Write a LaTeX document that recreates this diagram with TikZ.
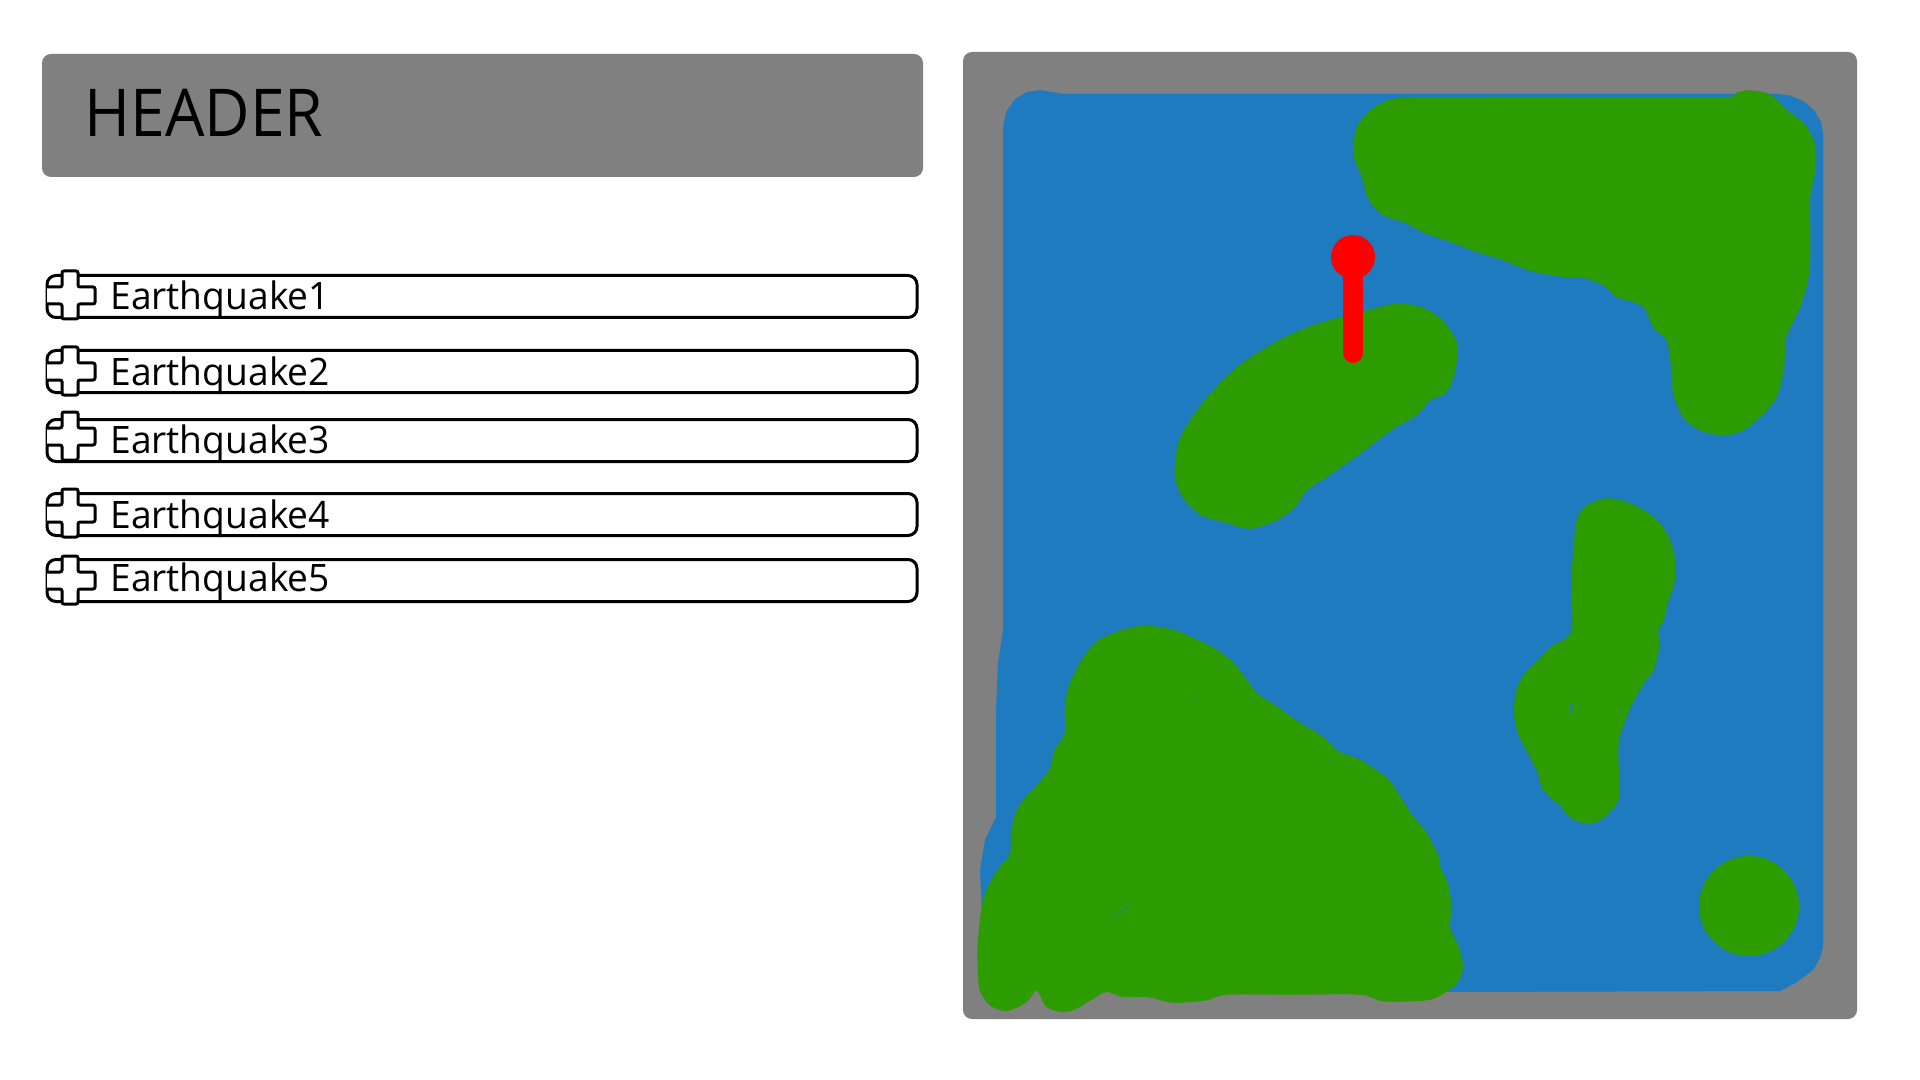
\documentclass[tikz,border=0pt]{standalone}
\usepackage{fontspec}
\setmainfont{Open Sans}
\newfontfamily\headfont[FakeStretch=0.945]{Open Sans}
\newfontfamily\rowfont[FakeStretch=0.983]{Open Sans}
\definecolor{panelgray}{HTML}{808080}
\definecolor{seablue}{HTML}{1E7BBF}
\definecolor{landgreen}{HTML}{2C9C00}
\definecolor{pinred}{HTML}{FF0000}
\tikzset{
  panel/.style={fill=panelgray,rounded corners=4.5pt},
  land/.style={fill=landgreen,draw=landgreen,line width=0.3pt},
  hole/.style={fill=seablue},
  eqbox/.style={draw=black,fill=white,line width=1.5pt,rounded corners=4.5pt,minimum width=435pt,minimum height=21pt,anchor=north west,inner sep=0pt},
  eqtext/.style={anchor=base west,inner sep=0pt,font=\rowfont\fontsize{18.9}{20}\selectfont},
  crossfill/.style={fill=white},
  crossline/.style={draw=black,line width=1.5pt,rounded corners=1pt}
}
\newcommand{\eqcross}[1]{%
  \path[crossfill] (47,#1+16) -- (62,#1+16) -- (62,#1) -- (78,#1) -- (78,#1+16) -- (95,#1+16) -- (95,#1+33) -- (78,#1+33) -- (78,#1+48) -- (62,#1+48) -- (62,#1+33) -- (47,#1+33) -- cycle;
  \path[crossline] (46,#1+16) -- (62,#1+16) -- (62,#1) -- (78,#1) -- (78,#1+16) -- (95,#1+16) -- (95,#1+33) -- (78,#1+33) -- (78,#1+48) -- (62,#1+48) -- (62,#1+33) -- (46,#1+33);}
\begin{document}
\begin{tikzpicture}[x=0.5pt,y=-0.5pt]
\useasboundingbox (0,0) rectangle (1920,1080);
% header
\path[panel] (42,54) rectangle (923,177);
\node[anchor=base west,inner sep=0pt,font=\headfont\fontsize{33}{36}\selectfont] (header) at (84,137) {HEADER};
% list rows
\node[eqbox] (box1) at (45.5,274) {};
\eqcross{271}
\node[eqtext] (eq1) at (110,310) {Earthquake1};
\node[eqbox] (box2) at (45.5,349) {};
\eqcross{347}
\node[eqtext] (eq2) at (110,386) {Earthquake2};
\node[eqbox] (box3) at (45.5,418) {};
\eqcross{412}
\node[eqtext] (eq3) at (110,453) {Earthquake3};
\node[eqbox] (box4) at (45.5,492) {};
\eqcross{489}
\node[eqtext] (eq4) at (110,528) {Earthquake4};
\node[eqbox] (box5) at (45.5,558) {};
\eqcross{556}
\node[eqtext] (eq5) at (110,591) {Earthquake5};
% map panel
\path[panel] (963,52) rectangle (1857,1019);
% sea
\path[fill=seablue] (1003,127) -- (1006,112) -- (1015,99) -- (1027,92) -- (1040,90) -- (1052,92) -- (1065,94) -- (1777,94) -- (1790,95.5) -- (1803,101) -- (1814,110) -- (1821,122) -- (1823,133) -- (1823,947) -- (1820,958) -- (1813,970) -- (1797,982) -- (1788,987) -- (1780,991) -- (1447,992) -- (1000,985) -- (982,917) -- (980,870) -- (985,840) -- (996,817) -- (996,710) -- (998,663) -- (1003,630) -- cycle;
% top-right land
\begin{scope}[shift={(1340,70)},scale=0.33333]
\path[land] plot[smooth cycle,tension=0.5] coordinates {(40,235)(50,175)(81,131)(125,100)(185,85)(400,82)(800,82)(1155,82)(1190,68)(1230,62)(1290,75)(1345,125)(1390,160)(1420,210)(1428,260)(1422,320)(1410,380)(1410,480)(1410,560)(1403,630)(1380,710)(1340,795)(1335,830)(1330,900)(1310,980)(1270,1030)(1210,1080)(1148,1095)(1080,1080)(1030,1040)(1000,970)(998,920)(990,860)(980,810)(940,770)(915,715)(880,695)(830,680)(790,645)(730,622)(690,622)(620,612)(560,598)(490,570)(410,545)(340,518)(260,490)(190,455)(130,435)(85,385)(65,315)(45,270)};
\end{scope}
% middle land
\begin{scope}[shift={(1160,280)},scale=0.33333]
\path[land] plot[smooth cycle,tension=0.5] coordinates {(710,72)(790,85)(850,125)(890,190)(885,270)(860,335)(810,360)(770,405)(700,445)(600,520)(500,590)(440,630)(405,680)(350,720)(270,745)(190,725)(125,705)(75,660)(47,600)(47,540)(65,465)(140,355)(240,255)(370,175)(480,130)(610,95)};
\end{scope}
% right land
\begin{scope}[shift={(1480,480)},scale=0.33333]
\path[land] plot[smooth cycle,tension=0.5] coordinates {(370,57)(425,62)(480,85)(530,120)(565,170)(583,230)(583,305)(565,360)(550,420)(535,450)(535,510)(520,570)(490,610)(445,695)(415,790)(417,940)(400,985)(360,1020)(320,1030)(275,1015)(240,975)(190,930)(175,880)(150,830)(115,760)(103,695)(110,630)(135,580)(165,550)(215,500)(275,455)(275,300)(288,140)(310,85)};
\path[hole] (285,660) -- (270,680) -- (270,698) -- cycle;
\end{scope}
% bottom-left land
\begin{scope}[shift={(960,600)},scale=0.33333]
\path[land] plot[smooth cycle,tension=0.5] coordinates {(560,78)(640,90)(700,115)(770,150)(820,190)(860,240)(890,280)(950,320)(1020,370)(1080,405)(1135,455)(1200,480)(1280,535)(1320,590)(1355,645)(1400,700)(1435,770)(1440,800)(1465,860)(1473,920)(1470,985)(1495,1040)(1508,1100)(1490,1150)(1450,1180)(1400,1200)(1270,1203)(1200,1183)(1000,1183)(800,1183)(740,1200)(640,1207)(560,1190)(490,1190)(440,1175)(400,1195)(350,1225)(310,1235)(260,1220)(230,1170)(200,1205)(140,1232)(90,1215)(60,1170)(54,1100)(54,1030)(70,900)(110,815)(150,765)(155,690)(180,615)(265,515)(285,450)(315,400)(315,330)(325,265)(360,190)(410,125)(490,90)};
\path[hole] (695,292) -- (720,316) -- (705,298) -- cycle;
\path[hole] (445,962) -- (520,910) -- (480,935) -- cycle;
\end{scope}
% lone round land
\path[fill=landgreen] (1749,906) circle[radius=50];
% pin
\draw[pinred,line width=10pt,line cap=round] (1353,257) -- (1353,353);
\path[fill=pinred] (1353,257) circle[radius=22];
\end{tikzpicture}
\end{document}
